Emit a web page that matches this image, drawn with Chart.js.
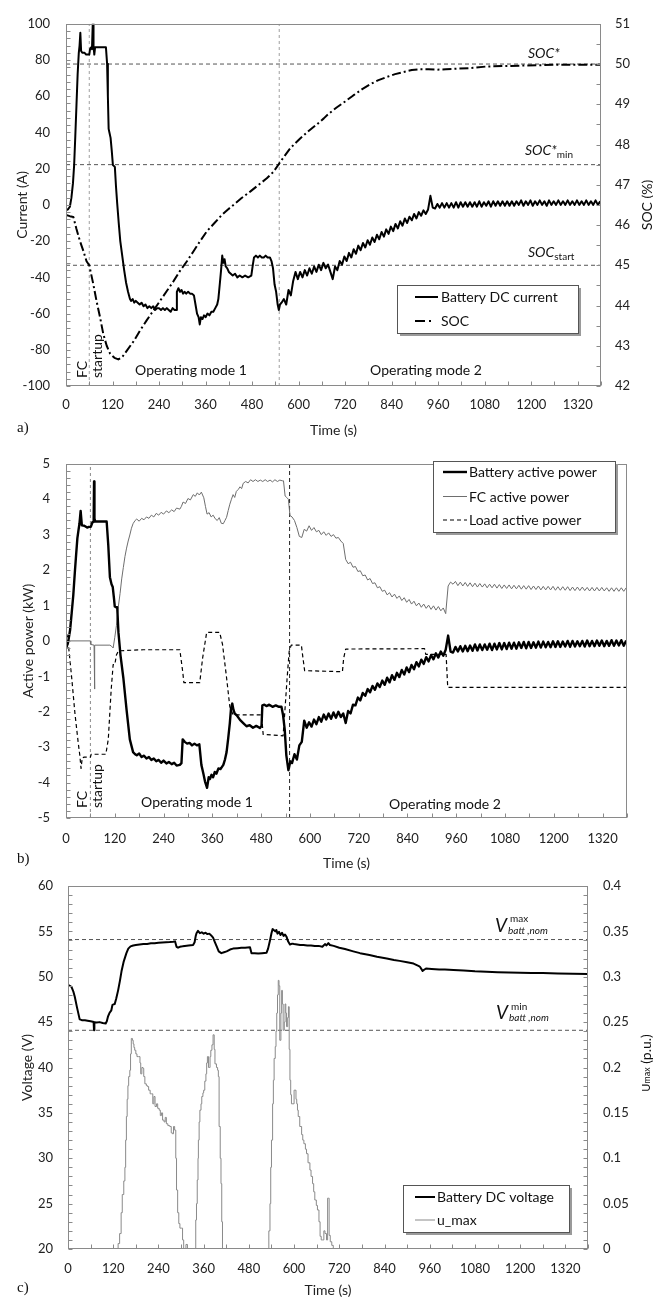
<!DOCTYPE html>
<html><head><meta charset="utf-8">
<script src="https://cdn.jsdelivr.net/npm/chart.js@4.4.1/dist/chart.umd.min.js"></script>
<style>
html,body{margin:0;padding:0;background:#fff;}
body{width:653px;height:1297px;position:relative;overflow:hidden;}
canvas{position:absolute;left:0;}
</style></head>
<body>
<canvas id="ca" width="653" height="440" style="top:0px;width:653px;height:440px"></canvas>
<canvas id="cb" width="653" height="440" style="top:440px;width:653px;height:440px"></canvas>
<canvas id="cc" width="653" height="450" style="top:860px;width:653px;height:450px"></canvas>
<script>
// ---------------- DATA ----------------
const xTickStep = 120;
const timeMax = 1380;
const modeBoundaries = [60, 550];
const socRefLevels = [50, 47.5, 45];
const voltRefLevels = [54.1, 44.1];

// shared time grid for operating mode 2 samples (s)
const tM2 = [562,568,574,580,586,592,598,604,610,616,
  622,628,634,640,646,652,658,664,670,676,
  682,688,694,700,706,712,718,724,730,736,
  742,748,754,760,766,772,778,784,790,796,
  802,808,814,820,826,832,838,844,850,856,
  862,868,874,880,886,892,898,904,910,916,
  922,928,934,940,946,952,958,964,970,976,
  982,988,994,1000,1006,1012,1018,1024,1030,1036,
  1042,1048,1054,1060,1066,1072,1078,1084,1090,1096,
  1102,1108,1114,1120,1126,1132,1138,1144,1150,1156,
  1162,1168,1174,1180,1186,1192,1198,1204,1210,1216,
  1222,1228,1234,1240,1246,1252,1258,1264,1270,1276,
  1282,1288,1294,1300,1306,1312,1318,1324,1330,1336,
  1342,1348,1354,1360,1366,1372,1378];

// (a) Battery DC current (A)
const tCurE = [0,5,10,14,18,21,24,27,30,33,35,37,39,42,48,52,56,60,62,65,67,69,70,71,73,75,85,95,103,106,
  108,110,112,115,118,121,126,129,132,136,140,145,150,155,160,165,168,172,176,180,185,190,195,200,205,210,215,220,225,230,
  235,240,245,250,255,260,265,270,275,280,284,286,290,294,298,302,306,310,315,320,325,330,334,338,342,345,348,352,356,360,
  365,370,375,380,385,390,393,397,400,403,406,409,412,416,420,425,430,436,442,448,455,462,470,478,482,485,490,495,500,505,
  510,515,520,526,530,534,538,542,546,549,552,556];
const vCurE = [-3,-2.5,-1,4,12,22,38,55,72,84,88,95,85,84,84,83,83,83,86,87,86,100,106,88,83,87,87,87,87,78,
  60,42,40,37,30,22,21,10,1,-10,-20,-28,-36,-43,-48,-52,-53,-52,-54,-53,-54,-55,-54,-56,-55,-57,-56,-57,-56,-58,
  -57,-57,-58,-57,-58,-57,-58,-59,-57,-58,-58,-48,-46,-48,-47,-49,-48,-49,-48,-49,-49,-50,-55,-60,-62,-66,-62,-63,-61,-62,
  -60,-61,-59,-59,-57,-55,-52,-43,-36,-28,-32,-30,-34,-35,-37,-38,-39,-38,-40,-39,-40,-39,-40,-39,-33,-29,-28,-29,-28,-29,
  -29,-28,-29,-29,-31,-35,-44,-48,-55,-58,-55,-54];
const vCurM2 = [-52,-55,-47,-50,-42,-37,-41,-37,-40,-36,
  -39,-35,-38,-34,-37,-33,-36,-32,-35,-33,
  -37,-41,-34,-36,-31,-33,-28.5,-31,-26.5,-29,
  -24.5,-27,-22.5,-25,-21,-23.5,-19.5,-22,-18,-20.5,
  -16.5,-19,-15,-17.5,-13.5,-16,-12,-14.5,-10.5,-13,
  -9,-11.5,-7.5,-10,-6.5,-8.5,-5,-7.5,-4,-6,
  -3,-5,-2.5,5,-1.5,-2,0.5,-1.5,1,-1.5,
  1,-1.5,1,-1.5,1.5,-1.5,1.5,-1,1.5,-1,
  1.5,-1,1.5,-1,2,-1,1.5,-0.5,2,-1,
  2,-0.5,2,-0.5,2,-0.5,2,-0.5,2,-0.5,
  2,0,2.5,-0.5,2,0,2.5,-0.5,2,0,
  2.5,0,2,-0.5,2.5,0,2,0,2.5,0,
  2,0,2.5,0,2,0,2.5,0,2,0,
  2.5,0,2,0,2.5,0,2];

// (a) SOC (%)
const tSoc = [0,10,19,27,36,45,53,60,70,79,88,96,105,114,125,135,145,157,175,191,
  208,225,243,260,277,294,312,329,346,363,383,402,417,432,453,475,497,518,535,550,
  564,578,591,604,625,647,665,677,698,720,741,763,785,806,828,849,870,892,914,935,
  957,980,1000,1043,1086,1129,1172,1215,1258,1300,1340,1380];
const vSoc = [46.25,46.22,46.2,45.9,45.6,45.35,45.1,45.0,44.55,44.1,43.7,43.3,43.0,42.8,42.7,42.66,42.72,42.88,43.12,43.38,
  43.63,43.87,44.12,44.36,44.6,44.86,45.1,45.35,45.6,45.84,46.05,46.25,46.38,46.5,46.67,46.83,47.0,47.16,47.32,47.53,
  47.72,47.9,48.03,48.15,48.33,48.5,48.65,48.76,48.92,49.07,49.22,49.37,49.5,49.6,49.68,49.75,49.8,49.85,49.87,49.87,
  49.86,49.87,49.88,49.9,49.94,49.95,49.96,49.97,49.98,49.98,49.98,49.98];

// (b) Battery active power (kW)
const tBpE = [0,5,10,14,18,22,25,28,31,33,36,39,45,52,56,61,65,68,69,70,
  72,80,90,100,104,108,112,115,118,120,123,126,129,134,141,149,157,165,170,174,
  180,186,192,198,204,210,216,222,228,234,240,247,253,260,266,272,280,284,287,292,
  298,304,310,316,322,328,333,338,342,347,351,354,358,362,366,370,375,380,387,391,
  395,399,403,406,409,412,415,420,428,436,444,452,460,468,477,481,483,488,493,500,
  508,516,524,530,534,538,542,547,552,556];
const vBpE = [-0.22,-0.05,0.3,0.79,1.3,1.98,2.45,2.9,3.15,3.3,3.67,3.26,3.25,3.2,3.22,3.22,3.35,3.36,4.5,3.45,
  3.37,3.37,3.37,3.37,2.7,1.8,1.6,1.52,1.2,0.97,0.95,0.95,0.24,-0.4,-1.04,-1.95,-2.78,-3.14,-3.2,-3.23,
  -3.18,-3.28,-3.24,-3.32,-3.28,-3.36,-3.32,-3.4,-3.36,-3.44,-3.38,-3.46,-3.42,-3.48,-3.44,-3.52,-3.5,-3.45,-2.78,-2.85,
  -2.9,-2.88,-2.95,-2.9,-2.95,-2.92,-3.5,-3.75,-3.97,-4.15,-3.85,-3.9,-3.78,-3.85,-3.7,-3.75,-3.6,-3.62,-3.5,-3.35,
  -3.14,-2.75,-2.32,-1.9,-1.77,-1.95,-2.05,-2.1,-2.23,-2.32,-2.41,-2.38,-2.45,-2.4,-2.46,-2.4,-1.82,-1.8,-1.84,-1.8,
  -1.86,-1.82,-1.86,-1.86,-2.1,-2.5,-3.23,-3.65,-3.4,-3.45];
const vBpM2 = [-3.2,-3.35,-2.95,-2.85,-2.25,-2.45,-2.3,-2.42,-2.22,-2.35,
  -2.15,-2.28,-2.08,-2.22,-2.05,-2.2,-2.02,-2.17,-2.0,-2.15,
  -2.05,-2.32,-1.98,-2.05,-1.8,-1.82,-1.6,-1.68,-1.47,-1.55,
  -1.36,-1.45,-1.27,-1.38,-1.2,-1.3,-1.12,-1.24,-1.04,-1.17,
  -0.97,-1.1,-0.9,-1.02,-0.82,-0.95,-0.75,-0.88,-0.68,-0.8,
  -0.6,-0.72,-0.53,-0.65,-0.46,-0.58,-0.4,-0.52,-0.35,-0.47,
  -0.3,-0.42,-0.25,0.15,-0.3,-0.33,-0.17,-0.3,-0.15,-0.3,
  -0.14,-0.29,-0.13,-0.28,-0.1,-0.27,-0.1,-0.26,-0.1,-0.25,
  -0.08,-0.26,-0.08,-0.24,-0.06,-0.24,-0.06,-0.23,-0.05,-0.22,
  -0.05,-0.22,-0.04,-0.2,-0.03,-0.21,-0.03,-0.2,-0.04,-0.19,
  -0.02,-0.19,-0.02,-0.18,-0.03,-0.18,-0.01,-0.17,-0.01,-0.17,
  -0.02,-0.16,0,-0.17,0,-0.16,-0.01,-0.15,0,-0.16,
  0.01,-0.15,0,-0.15,0.01,-0.14,0.01,-0.15,0,-0.14,
  0.02,-0.14,0.01,-0.13,0.02,-0.14,0.01];

// (b) FC active power (kW)
const tFcE = [0,60,61,69,70,71,108,112,116,120,124,128,133,137,141,145,149,153,157,161,
  165,170,174,180,186,192,198,204,210,216,222,228,234,240,247,253,260,266,272,280,
  284,288,294,300,306,313,318,323,328,333,336,339,343,347,352,357,362,367,372,377,
  382,387,391,395,399,403,407,411,415,419,424,428,432,436,442,448,454,460,466,472,
  478,484,490,496,502,508,514,520,526,532,535,539,543,547,551,556];
const vFcE = [0,0,-0.1,-0.12,-1.36,-0.12,-0.12,-0.15,-0.2,0.1,0.43,0.9,1.34,1.75,2.07,2.38,2.62,2.82,2.99,3.18,
  3.31,3.4,3.44,3.38,3.46,3.42,3.5,3.46,3.55,3.5,3.6,3.55,3.63,3.58,3.67,3.62,3.7,3.65,3.75,3.72,
  3.8,3.92,3.88,4.02,3.98,4.13,4.08,4.18,4.12,4.2,4.12,4.04,3.8,3.58,3.62,3.5,3.55,3.45,3.4,3.48,
  3.32,3.31,3.4,3.49,3.68,3.86,4.0,4.13,4.05,4.22,4.28,4.35,4.3,4.45,4.5,4.46,4.55,4.5,4.55,4.5,
  4.54,4.5,4.55,4.5,4.54,4.49,4.55,4.5,4.54,4.52,4.52,4.09,4.05,4.0,3.54,3.5];
const vFcM2 = [3.4,3.2,2.95,2.92,3.15,3.1,3.25,3.12,3.2,3.08,
  3.12,3.0,3.08,2.98,3.05,2.95,3.0,2.9,2.92,2.82,
  2.75,2.3,2.18,2.22,2.08,2.1,1.96,1.98,1.84,1.86,
  1.72,1.76,1.62,1.64,1.5,1.53,1.4,1.43,1.3,1.36,
  1.24,1.32,1.2,1.27,1.14,1.22,1.09,1.17,1.04,1.12,
  0.99,1.07,0.95,1.04,0.92,1.01,0.89,0.99,0.87,0.97,
  0.85,0.93,0.77,1.55,1.66,1.6,1.68,1.56,1.66,1.55,
  1.65,1.54,1.64,1.53,1.63,1.52,1.62,1.52,1.61,1.5,
  1.6,1.5,1.6,1.49,1.59,1.48,1.58,1.48,1.58,1.47,
  1.57,1.47,1.57,1.46,1.56,1.46,1.56,1.45,1.55,1.45,
  1.55,1.44,1.54,1.44,1.54,1.44,1.54,1.43,1.53,1.43,
  1.53,1.43,1.53,1.42,1.52,1.42,1.52,1.42,1.52,1.42,
  1.51,1.41,1.51,1.41,1.51,1.41,1.51,1.41,1.5,1.4,
  1.5,1.4,1.5,1.4,1.5,1.4,1.5];

// (b) Load active power (kW)
const tLoad = [0,3,6,14,22,30,34,37,40,45,60,62,98,104,111,116,120,124,129,190,
  280,287,290,329,336,346,378,385,395,403,411,481,485,534,538,544,549,554,579,583,
  587,680,683,688,882,885,935,939,1380];
const vLoad = [0.2,0.15,-0.12,-1.04,-2.05,-2.87,-3.23,-3.6,-3.3,-3.28,-3.28,-3.2,-3.2,-2.78,-1.4,-0.67,-0.67,-0.4,-0.28,-0.25,
  -0.25,-0.86,-1.18,-1.18,-0.49,0.24,0.24,-0.1,-1.04,-1.86,-2.09,-2.09,-2.64,-2.68,-2.05,-1.04,-0.3,-0.12,-0.12,-0.49,
  -0.84,-0.87,-0.49,-0.23,-0.22,-0.38,-0.38,-1.31,-1.31];

// (c) Battery DC voltage (V)
const tVolt = [0,5,9,14,18,24,31,35,38,45,52,60,66,68,69,70,76,84,92,100,
  103,106,110,115,118,121,124,128,133,138,142,148,155,160,166,173,180,190,200,210,
  220,230,240,250,260,270,279,284,288,292,297,304,310,320,332,336,339,341,345,350,
  355,360,365,370,375,380,385,390,394,400,407,414,421,430,438,450,460,470,483,487,
  495,505,515,527,531,536,540,543,546,550,553,556,560,564,568,572,576,580,584,589,
  595,600,608,616,625,635,645,655,665,675,682,686,691,695,705,720,735,757,775,800,
  820,846,865,880,900,917,930,934,941,946,950,965,985,1000,1023,1050,1080,1111,1140,1170,
  1200,1230,1260,1300,1340,1380];
const vVolt = [49.1,49.0,48.9,48.4,47.8,46.6,45.3,45.25,45.2,45.2,45.15,45.1,45.05,45.0,44.1,45.0,44.95,45.0,44.9,44.85,
  45.1,45.6,46.0,46.3,46.9,46.95,47.0,47.6,48.5,49.6,50.6,51.7,52.6,53.1,53.35,53.45,53.5,53.55,53.6,53.62,
  53.68,53.7,53.75,53.78,53.8,53.82,53.85,53.9,53.3,53.2,53.3,53.35,53.4,53.45,53.5,53.8,54.5,54.8,55.05,54.8,
  54.9,54.75,54.85,54.7,54.75,54.55,54.3,53.8,53.4,52.8,52.6,52.7,52.8,53.0,53.1,53.15,53.2,53.2,53.25,52.6,
  52.6,52.55,52.6,52.65,53.1,54.0,54.8,55.25,55.15,55.0,55.15,54.75,54.95,54.6,54.85,54.5,54.65,54.4,53.9,53.55,
  53.65,53.6,53.55,53.5,53.5,53.45,53.45,53.4,53.4,53.3,53.6,53.45,53.7,53.5,53.4,53.2,53.05,52.8,52.6,52.4,
  52.2,52.0,51.85,51.75,51.6,51.45,51.2,51.1,50.65,50.8,50.9,50.85,50.8,50.8,50.75,50.7,50.6,50.55,50.5,50.47,
  50.45,50.42,50.4,50.35,50.33,50.3];

// (c) u_max (p.u.)
const tUmax = [0,133,137,141,144,148,151,153,155,157,159,161,164,166,168,171,173,175,177,180,
  183,187,191,193,196,199,201,204,208,211,214,218,222,225,228,231,235,238,242,245,
  248,251,255,258,261,265,270,274,277,280,283,286,288,291,294,297,301,304,307,313,
  317,337,339,341,343,345,346,348,350,353,355,358,360,363,366,368,370,373,375,377,
  379,382,385,388,390,394,397,399,401,404,406,408,410,531,533,536,538,540,543,545,
  547,550,552,554,556,558,560,562,565,567,569,571,574,576,578,580,583,585,587,589,
  591,593,597,600,602,605,607,609,611,615,620,623,626,630,633,637,642,645,649,652,
  655,659,662,666,669,672,676,679,682,686,689,691,693,696,700,704,1380];
const vUmax = [0,0.006,0.017,0.04,0.06,0.075,0.09,0.12,0.146,0.165,0.18,0.19,0.197,0.215,0.232,0.23,0.226,0.222,0.219,0.215,
  0.212,0.212,0.205,0.193,0.2,0.199,0.19,0.182,0.18,0.179,0.175,0.171,0.171,0.16,0.168,0.157,0.16,0.155,0.153,0.147,
  0.15,0.142,0.14,0.145,0.138,0.136,0.135,0.128,0.127,0.135,0.131,0.1,0.065,0.04,0.028,0.023,0.023,0.01,0,0.005,
  0,0,0.032,0.05,0.076,0.1,0.12,0.14,0.153,0.16,0.168,0.172,0.175,0.185,0.193,0.205,0.212,0.2,0.2,0.212,
  0.219,0.225,0.236,0.22,0.204,0.2,0.197,0.19,0.135,0.1,0.072,0.03,0,0,0.02,0.05,0.09,0.12,0.16,0.186,
  0.21,0.223,0.24,0.26,0.28,0.296,0.29,0.23,0.26,0.285,0.27,0.241,0.25,0.27,0.26,0.245,0.255,0.267,0.22,0.186,
  0.17,0.16,0.16,0.175,0.175,0.165,0.16,0.153,0.146,0.135,0.126,0.12,0.116,0.11,0.105,0.095,0.087,0.08,0.072,0.063,
  0.054,0.048,0.043,0.03,0.014,0.01,0.01,0.02,0.017,0.01,0.056,0.056,0.015,0.008,0.004,0,0];

// ---------------- HELPERS ----------------
const FONT = 'Lato, "Open Sans", "DejaVu Sans", sans-serif';
const SERIF = '"Liberation Serif", "DejaVu Serif", serif';
Chart.defaults.font.family = FONT;
Chart.defaults.color = '#222';

function pts(t, v) { const n = Math.min(t.length, v.length), o = []; for (let i = 0; i < n; i++) o.push({x: t[i], y: v[i]}); return o; }
function hRef(level, axis, color) {
  return {label: '', data: [{x: 0, y: level}, {x: timeMax, y: level}], yAxisID: axis, borderColor: color, borderWidth: 1, borderDash: [4, 3]};
}
function vRef(t, axis, lo, hi, color, dash) {
  return {label: '', data: [{x: t, y: lo}, {x: t, y: hi}], yAxisID: axis, borderColor: color, borderWidth: 1, borderDash: dash};
}
function axisX(pad, titlePad, height) {
  return {type: 'linear', min: 0, max: timeMax,
    ticks: {stepSize: xTickStep, includeBounds: false, padding: pad, color: '#222', font: {size: 13}, maxRotation: 0, autoSkip: false,
      callback: v => String(v)},
    grid: {display: false, drawTicks: false}, border: {display: false},
    title: {display: true, text: 'Time (s)', color: '#222', font: {size: 14}, padding: {top: 0, bottom: titlePad}},
    afterFit(s) { s.height = height; }};
}
function axisY(pos, min, max, step, pad, width, title, titlePad, fmt) {
  const o = {type: 'linear', position: pos, min: min, max: max,
    ticks: {stepSize: step, padding: pad, color: '#222', font: {size: 13}, includeBounds: false,
      callback: fmt || (v => String(v))},
    grid: {display: false, drawTicks: false}, border: {display: false},
    afterFit(s) { s.width = width; }};
  if (title) o.title = {display: true, text: title, color: '#222', font: {size: 14}, padding: {top: titlePad, bottom: 0}};
  return o;
}
function drawRich(ctx, tx) {
  ctx.save();
  ctx.translate(tx.x, tx.y);
  if (tx.rot) ctx.rotate(tx.rot);
  ctx.fillStyle = tx.color || '#111';
  ctx.textBaseline = 'middle';
  ctx.textAlign = 'left';
  let total = 0;
  tx.parts.forEach(p => { ctx.font = p.font; total += ctx.measureText(p.text).width; });
  let x = tx.align === 'center' ? -total / 2 : (tx.align === 'right' ? -total : 0);
  tx.parts.forEach(p => { ctx.font = p.font; ctx.fillText(p.text, x, p.dy || 0); x += ctx.measureText(p.text).width; });
  ctx.restore();
}
function drawLegend(ctx, chart, lg) {
  ctx.save();
  ctx.setLineDash([]);
  ctx.fillStyle = '#9a9a9a'; ctx.fillRect(lg.x + 3, lg.y + 3, lg.w, lg.h);
  ctx.fillStyle = '#fff'; ctx.fillRect(lg.x, lg.y, lg.w, lg.h);
  ctx.strokeStyle = '#555'; ctx.lineWidth = 1;
  ctx.strokeRect(lg.x + 0.5, lg.y + 0.5, lg.w, lg.h);
  lg.items.forEach(it => {
    const ds = chart.data.datasets[it.ds];
    ctx.strokeStyle = ds.borderColor; ctx.lineWidth = ds.borderWidth;
    ctx.setLineDash(it.dash || ds.borderDash || []);
    ctx.beginPath(); ctx.moveTo(lg.lx0, it.y); ctx.lineTo(lg.lx1, it.y); ctx.stroke();
    ctx.setLineDash([]);
    ctx.fillStyle = '#111'; ctx.font = '14px ' + FONT; ctx.textAlign = 'left'; ctx.textBaseline = 'middle';
    ctx.fillText(ds.label, lg.tx, it.y + 0.5);
  });
  ctx.restore();
}
function decor(spec) {
  return {
    id: 'decor',
    afterDatasetsDraw(chart) {
      const ctx = chart.ctx, a = chart.chartArea;
      ctx.save();
      const L = Math.round(a.left) + 0.5, T = Math.round(a.top) + 0.5, R = Math.round(a.right) - 0.5, B = Math.round(a.bottom) - 0.5;
      ctx.strokeStyle = '#8a8a8a'; ctx.lineWidth = 1; ctx.setLineDash([]);
      ctx.strokeRect(L, T, R - L, B - T);
      ctx.beginPath();
      spec.ticks.forEach(tk => {
        const sc = chart.scales[tk.axis];
        const n = Math.round((tk.to - tk.from) / tk.step);
        for (let k = 0; k <= n; k++) {
          const p = Math.round(sc.getPixelForValue(tk.from + k * tk.step)) + 0.5;
          if (tk.side === 'bottom') { ctx.moveTo(p, B); ctx.lineTo(p, B - 4); }
          else if (tk.side === 'left') { ctx.moveTo(L, p); ctx.lineTo(L + 4, p); }
          else { ctx.moveTo(R, p); ctx.lineTo(R - 4, p); }
        }
      });
      ctx.stroke();
      ctx.restore();
      (spec.texts || []).forEach(tx => drawRich(ctx, tx));
      if (spec.legend) drawLegend(ctx, chart, spec.legend);
    }
  };
}
const common = {
  responsive: false, animation: false, devicePixelRatio: 1, events: [],
  elements: {point: {radius: 0}, line: {tension: 0, borderJoinStyle: 'round', fill: false}},
  plugins: {legend: {display: false}, tooltip: {enabled: false}}
};
const f14 = '14px ' + FONT, f14i = 'italic 14px ' + FONT, f10 = '10px ' + FONT;
const UP = -Math.PI / 2;

// ---------------- PANEL A ----------------
new Chart(document.getElementById('ca'), {
  type: 'line',
  data: {datasets: [
    {label: 'Battery DC current', data: pts(tCurE.concat(tM2), vCurE.concat(vCurM2)), yAxisID: 'y', borderColor: '#000', borderWidth: 2},
    {label: 'SOC', data: pts(tSoc, vSoc), yAxisID: 'y2', borderColor: '#000', borderWidth: 2, borderDash: [9, 3, 2, 3]},
    ...socRefLevels.map(l => hRef(l, 'y2', '#555')),
    ...modeBoundaries.map(t => vRef(t, 'y', -100, 100, '#a0a0a0', [3, 3]))
  ]},
  options: Object.assign({}, common, {
    layout: {padding: {top: 21, left: 0, right: 0, bottom: 0}},
    scales: {
      x: axisX(11, 1.1, 54),
      y: axisY('left', -100, 100, 20, 16, 66, 'Current (A)', 13.6),
      y2: axisY('right', 42, 51, 1, 14, 52)
    }
  }),
  plugins: [decor({
    ticks: [{axis: 'x', side: 'bottom', from: 0, to: 1380, step: 60},
            {axis: 'y', side: 'left', from: -100, to: 100, step: 4},
            {axis: 'y2', side: 'right', from: 42, to: 51, step: 0.5}],
    texts: [
      {x: 82, y: 378, rot: UP, parts: [{text: 'FC', font: f14}]},
      {x: 97, y: 378, rot: UP, parts: [{text: 'startup', font: f14}]},
      {x: 191, y: 370, align: 'center', parts: [{text: 'Operating mode 1', font: f14}]},
      {x: 426, y: 370, align: 'center', parts: [{text: 'Operating mode 2', font: f14}]},
      {x: 528, y: 53, parts: [{text: 'SOC*', font: f14i}]},
      {x: 525, y: 150, parts: [{text: 'SOC*', font: f14i}, {text: 'min', font: f10, dy: 5}]},
      {x: 528, y: 252, parts: [{text: 'SOC', font: f14i}, {text: 'start', font: f10, dy: 5}]},
      {x: 647, y: 205, rot: UP, align: 'center', parts: [{text: 'SOC (%)', font: f14}]},
      {x: 17, y: 428, parts: [{text: 'a)', font: '15px ' + SERIF}]}
    ],
    legend: {x: 397, y: 285, w: 181, h: 48, lx0: 415, lx1: 438, tx: 441,
      items: [{ds: 0, y: 297}, {ds: 1, y: 321, dash: [10, 4, 2, 40]}]}
  })]
});

// ---------------- PANEL B ----------------
new Chart(document.getElementById('cb'), {
  type: 'line',
  data: {datasets: [
    {label: 'Battery active power', data: pts(tBpE.concat(tM2), vBpE.concat(vBpM2)), yAxisID: 'y', borderColor: '#000', borderWidth: 2.4},
    {label: 'FC active power', data: pts(tFcE.concat(tM2), vFcE.concat(vFcM2)), yAxisID: 'y', borderColor: '#6e6e6e', borderWidth: 1},
    {label: 'Load active power', data: pts(tLoad, vLoad), yAxisID: 'y', borderColor: '#000', borderWidth: 1.2, borderDash: [4, 3]},
    vRef(modeBoundaries[0], 'y', -5, 5, '#8a8a8a', [3, 3]),
    vRef(modeBoundaries[1], 'y', -5, 5, '#222', [4, 3])
  ]},
  options: Object.assign({}, common, {
    layout: {padding: {top: 13, left: 0, right: 26, bottom: 0}},
    scales: {
      x: axisX(13, 8.6, 62),
      y: axisY('left', -5, 5, 1, 16, 66, 'Active power (kW)', 19.6)
    }
  }),
  plugins: [decor({
    ticks: [{axis: 'x', side: 'bottom', from: 0, to: 1380, step: 60},
            {axis: 'y', side: 'left', from: -5, to: 5, step: 0.2}],
    texts: [
      {x: 82, y: 368, rot: UP, parts: [{text: 'FC', font: f14}]},
      {x: 97, y: 368, rot: UP, parts: [{text: 'startup', font: f14}]},
      {x: 197, y: 362, align: 'center', parts: [{text: 'Operating mode 1', font: f14}]},
      {x: 445, y: 364, align: 'center', parts: [{text: 'Operating mode 2', font: f14}]},
      {x: 17, y: 419, parts: [{text: 'b)', font: '15px ' + SERIF}]}
    ],
    legend: {x: 433, y: 21, w: 182, h: 71, lx0: 443, lx1: 467, tx: 469,
      items: [{ds: 0, y: 32}, {ds: 1, y: 56.5}, {ds: 2, y: 80}]}
  })]
});

// ---------------- PANEL C ----------------
new Chart(document.getElementById('cc'), {
  type: 'line',
  data: {datasets: [
    {label: 'Battery DC voltage', data: pts(tVolt, vVolt), yAxisID: 'y', borderColor: '#000', borderWidth: 2},
    {label: 'u_max', data: pts(tUmax, vUmax), yAxisID: 'y2', borderColor: '#8a8a8a', borderWidth: 1, stepped: 'before'},
    ...voltRefLevels.map(l => hRef(l, 'y', '#555'))
  ]},
  options: Object.assign({}, common, {
    layout: {padding: {top: 26, left: 0, right: 0, bottom: 0}},
    scales: {
      x: axisX(12, 11.6, 61),
      y: axisY('left', 20, 60, 5, 15, 68, 'Voltage (V)', 18.6),
      y2: axisY('right', 0, 0.4, 0.05, 15, 65, null, 0, v => String(Math.round(v * 100) / 100))
    }
  }),
  plugins: [decor({
    ticks: [{axis: 'x', side: 'bottom', from: 0, to: 1380, step: 60},
            {axis: 'y', side: 'left', from: 20, to: 60, step: 1},
            {axis: 'y2', side: 'right', from: 0, to: 0.4, step: 0.01}],
    texts: [
      {x: 495, y: 66, parts: [{text: 'V', font: 'italic 19px ' + FONT}]},
      {x: 510, y: 59, parts: [{text: 'max', font: f10}]},
      {x: 508, y: 71, parts: [{text: 'batt ,nom', font: 'italic 10px ' + FONT}]},
      {x: 496, y: 153, parts: [{text: 'V', font: 'italic 19px ' + FONT}]},
      {x: 511, y: 147, parts: [{text: 'min', font: f10}]},
      {x: 509, y: 158, parts: [{text: 'batt ,nom', font: 'italic 10px ' + FONT}]},
      {x: 646, y: 203, rot: UP, align: 'center', parts: [{text: 'U', font: '11px ' + FONT}, {text: 'max', font: '9px ' + FONT, dy: 1}, {text: ' (p.u.)', font: f14}]},
      {x: 17, y: 428, parts: [{text: 'c)', font: '15px ' + SERIF}]}
    ],
    legend: {x: 403, y: 325, w: 166, h: 47, lx0: 415, lx1: 435, tx: 437,
      items: [{ds: 0, y: 337}, {ds: 1, y: 360}]}
  })]
});
</script>
</body></html>
